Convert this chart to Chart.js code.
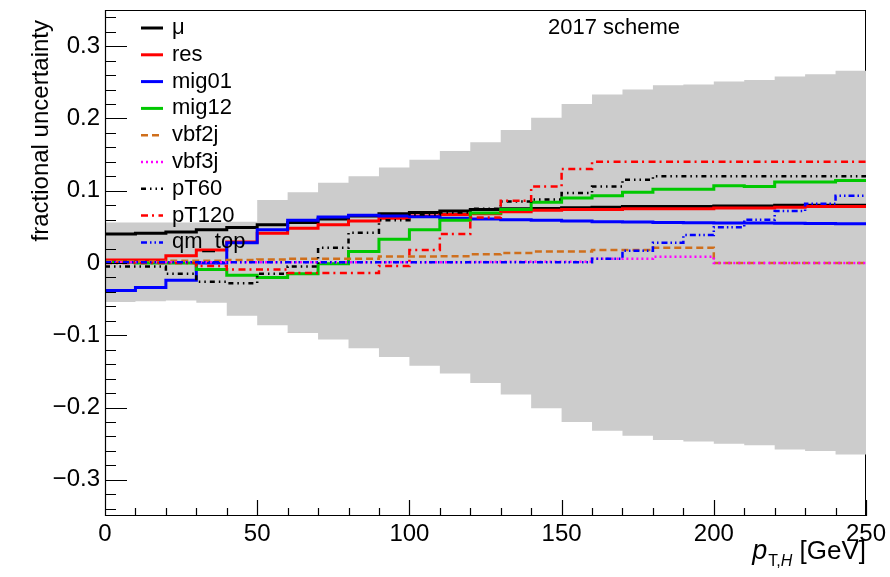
<!DOCTYPE html>
<html><head><meta charset="utf-8">
<script src="https://cdn.jsdelivr.net/npm/chart.js@4/dist/chart.umd.min.js"></script>
<style>html,body{margin:0;padding:0;background:#fff}#wrap{width:890px;height:577px}</style>
</head><body><div id="wrap"><canvas id="c" width="890" height="577"></canvas></div>
<script>
// ---- data ----
const binEdges = [0,10,20,30,40,50,60,70,80,90,100,110,120,130,140,150,160,170,180,190,200,210,220,230,240,250];
const bandUp   = [0.056,0.056,0.056,0.056,0.057,0.087,0.098,0.111,0.120,0.132,0.143,0.155,0.167,0.184,0.201,0.220,0.233,0.240,0.246,0.247,0.251,0.253,0.258,0.261,0.266];
const bandDown = [-0.054,-0.053,-0.052,-0.055,-0.073,-0.086,-0.097,-0.106,-0.118,-0.130,-0.142,-0.153,-0.166,-0.182,-0.201,-0.220,-0.232,-0.239,-0.245,-0.247,-0.250,-0.252,-0.258,-0.260,-0.265];
const mu     = [0.040,0.041,0.043,0.046,0.049,0.053,0.056,0.061,0.065,0.068,0.070,0.072,0.074,0.075,0.0755,0.0765,0.077,0.078,0.078,0.078,0.079,0.079,0.080,0.080,0.080];
const res    = [0.004,0.004,0.010,0.018,0.029,0.041,0.048,0.053,0.058,0.062,0.065,0.067,0.068,0.071,0.073,0.074,0.074,0.075,0.075,0.075,0.076,0.076,0.077,0.078,0.078];
const mig01  = [-0.038,-0.034,-0.024,0.000,0.028,0.046,0.059,0.0635,0.066,0.065,0.064,0.062,0.061,0.060,0.059,0.058,0.057,0.0566,0.056,0.0557,0.0555,0.0552,0.055,0.0547,0.0543];
const mig12  = [0.001,0.000,0.000,-0.009,-0.017,-0.020,-0.015,-0.001,0.016,0.033,0.046,0.059,0.069,0.074,0.084,0.090,0.093,0.098,0.102,0.102,0.107,0.106,0.112,0.112,0.114];
const vbf2j  = [0.002,0.002,0.003,0.003,0.004,0.005,0.006,0.006,0.006,0.009,0.009,0.0095,0.012,0.014,0.016,0.016,0.018,0.018,0.021,0.021,0,0,0,0,0];
const vbf3j  = [0.001,0.001,0.001,0.001,0.001,0.001,0.001,0.001,0.001,0.001,0.001,0.001,0.0015,0.0017,0.0017,0.0017,0.0058,0.006,0.0086,0.0086,0,0,0,0,0];
const pT60   = [-0.005,-0.005,-0.015,-0.026,-0.028,-0.015,-0.005,0.021,0.042,0.059,0.067,0.070,0.075,0.085,0.088,0.097,0.106,0.115,0.120,0.120,0.120,0.120,0.120,0.120,0.120];
const pT120  = [0.000,0.000,0.000,-0.004,-0.009,-0.009,-0.014,-0.014,-0.014,-0.004,0.018,0.040,0.063,0.086,0.106,0.130,0.140,0.140,0.140,0.140,0.140,0.140,0.140,0.140,0.140];
const qm_top = [0.001,0.001,0.001,0.001,0.001,0.001,0.001,0.001,0.001,0.001,0.001,0.001,0.001,0.001,0.001,0.001,0.006,0.017,0.028,0.0386,0.0496,0.060,0.072,0.082,0.093];
const seriesNames = ['μ','res','mig01','mig12','vbf2j','vbf3j','pT60','pT120','qm_top'];
const xTicks = [0,50,100,150,200,250];
const xTickLabels = ['0','50','100','150','200','250'];
const yTicks = [-0.3,-0.2,-0.1,0,0.1,0.2,0.3];
const yTickLabels = ['\u22120.3','\u22120.2','\u22120.1','0','0.1','0.2','0.3'];
const xMinorStep = 10, yMinorStep = 0.02;

// ---- helpers ----
function steps(vals){ const p=[]; vals.forEach((v,i)=>{ p.push({x:binEdges[i],y:v}); p.push({x:binEdges[i+1],y:v}); }); return p; }

const styles = [
  {c:'#000000', w:3,   d:[]},
  {c:'#ff0000', w:3,   d:[]},
  {c:'#0000ff', w:3,   d:[]},
  {c:'#00c800', w:3,   d:[]},
  {c:'#cf6f1c', w:2.5, d:[7,4]},
  {c:'#ff00ff', w:2.5, d:[2,3]},
  {c:'#000000', w:2.5, d:[5,4,1.5,4,1.5,4]},
  {c:'#ff0000', w:2.5, d:[7,4,2,4.5]},
  {c:'#0000ff', w:2.5, d:[6,3,1.5,3,1.5,3]},
];
const seriesVals = [mu,res,mig01,mig12,vbf2j,vbf3j,pT60,pT120,qm_top];

const datasets = seriesVals.map((vals,i)=>({
  label: seriesNames[i], data: steps(vals), borderColor: styles[i].c, borderWidth: styles[i].w,
  borderDash: styles[i].d, fill:false, pointRadius:0, order: 20 - i, borderCapStyle:'butt', borderJoinStyle:'miter'
}));
datasets.push({label:'band_up', data: steps(bandUp), borderColor:'rgba(0,0,0,0)', borderWidth:0, backgroundColor:'#cccccc', fill:'+1', pointRadius:0, order:100});
datasets.push({label:'band_down', data: steps(bandDown), borderColor:'rgba(0,0,0,0)', borderWidth:0, fill:false, pointRadius:0, order:101});

const FONT = "'Liberation Sans', Arial, Helvetica, sans-serif";
Chart.defaults.font.family = FONT;
Chart.defaults.color = '#000';

const deco = {
  id:'deco',
  beforeDatasetsDraw(chart){
    const {ctx, chartArea:a} = chart;
    ctx.save(); ctx.strokeStyle='#000'; ctx.lineWidth=1;
    ctx.strokeRect(a.left+0.5, a.top+0.5, a.right-a.left-1, a.bottom-a.top-1);
    ctx.restore();
  },
  afterDatasetsDraw(chart){
    const {ctx, chartArea:a, scales:{x,y}} = chart;
    ctx.save();
    ctx.strokeStyle='#000'; ctx.lineWidth=1.2; ctx.setLineDash([]);
    ctx.beginPath();
    ctx.moveTo(a.left+0.5, a.top); ctx.lineTo(a.left+0.5, a.bottom);
    ctx.moveTo(a.left, a.bottom-0.5); ctx.lineTo(a.right, a.bottom-0.5);
    for (let v = x.min; v <= x.max + 1e-9; v += xMinorStep) {
      const px = Math.round(x.getPixelForValue(v)) + 0.5;
      const major = xTicks.some(t => Math.abs(t - v) < 1e-6);
      ctx.moveTo(px, a.bottom); ctx.lineTo(px, a.bottom - (major ? 16 : 8));
    }
    for (let k = Math.ceil(y.min / yMinorStep - 1e-6); k * yMinorStep <= y.max + 1e-9; k++) {
      const v = k * yMinorStep;
      const py = Math.round(y.getPixelForValue(v)) + 0.5;
      const major = yTicks.some(t => Math.abs(t - v) < 1e-6);
      ctx.moveTo(a.left, py); ctx.lineTo(a.left + (major ? 22 : 11), py);
    }
    ctx.stroke();

    // legend
    const lx0 = 141, lx1 = 163, tx = 172, ry0 = 28, rdy = 26.8;
    ctx.font = '22px ' + FONT; ctx.textBaseline = 'middle'; ctx.textAlign = 'left';
    seriesNames.forEach((n,i)=>{
      const yy = ry0 + i*rdy;
      ctx.strokeStyle = styles[i].c; ctx.lineWidth = styles[i].w; ctx.setLineDash(styles[i].d);
      ctx.beginPath(); ctx.moveTo(lx0, yy); ctx.lineTo(lx1, yy); ctx.stroke();
      ctx.setLineDash([]); ctx.fillStyle = '#000'; ctx.fillText(n, tx, yy);
    });

    // scheme label
    ctx.font = '22px ' + FONT; ctx.fillText('2017 scheme', 548, 28);

    // y title
    ctx.save(); ctx.translate(41, 20); ctx.rotate(-Math.PI/2);
    ctx.font = '24px ' + FONT; ctx.textAlign = 'right'; ctx.textBaseline = 'middle';
    ctx.fillText('fractional uncertainty', 0, 0); ctx.restore();

    // x title: p_{T,H} [GeV]
    ctx.textBaseline = 'alphabetic'; ctx.textAlign = 'left';
    const fMain = 'italic 27px ' + FONT, fSub = '16px ' + FONT, fSubI = 'italic 16px ' + FONT, fUp = '26px ' + FONT;
    ctx.font = fUp; const wG = ctx.measureText(' [GeV]').width;
    ctx.font = fSub; const wT = ctx.measureText('T,').width;
    ctx.font = fSubI; const wH = ctx.measureText('H').width;
    ctx.font = fMain; const wP = ctx.measureText('p').width;
    let xx = a.right - (wP + 1 + wT + wH + wG);
    const base = 559;
    ctx.font = fMain; ctx.fillText('p', xx, base); xx += wP + 1;
    ctx.font = fSub; ctx.fillText('T,', xx, base + 7); xx += wT;
    ctx.font = fSubI; ctx.fillText('H', xx, base + 7); xx += wH;
    ctx.font = fUp; ctx.fillText(' [GeV]', xx, base);
    ctx.restore();
  }
};

new Chart(document.getElementById('c'), {
  type:'line',
  data:{datasets},
  options:{
    responsive:false, animation:false, devicePixelRatio:1,
    layout:{padding:{top:10, right:24, left:0, bottom:0}},
    plugins:{legend:{display:false}, tooltip:{enabled:false}},
    elements:{point:{radius:0}, line:{tension:0}},
    scales:{
      x:{type:'linear', min:0, max:250,
         grid:{display:false, drawTicks:false}, border:{display:false},
         afterBuildTicks: s => { s.ticks = xTicks.map(v => ({value:v})); },
         ticks:{font:{size:24}, color:'#000', padding:4, maxRotation:0, autoSkip:false,
                callback:(v)=>{ const i = xTicks.indexOf(v); return i>=0 ? xTickLabels[i] : ''; }},
         afterFit: s => { s.height = 61; s.paddingLeft = 0; s.paddingRight = 0; }},
      y:{type:'linear', min:-0.35, max:0.35,
         grid:{display:false, drawTicks:false}, border:{display:false},
         afterBuildTicks: s => { s.ticks = yTicks.map(v => ({value:v})); },
         ticks:{font:{size:24}, color:'#000', padding:5, autoSkip:false,
                callback:(v)=>{ const i = yTicks.findIndex(t=>Math.abs(t-v)<1e-9); return i>=0 ? yTickLabels[i] : ''; }},
         afterFit: s => { s.width = 105; s.paddingTop = 0; s.paddingBottom = 0; }}
    }
  },
  plugins:[deco]
});
</script></body></html>
